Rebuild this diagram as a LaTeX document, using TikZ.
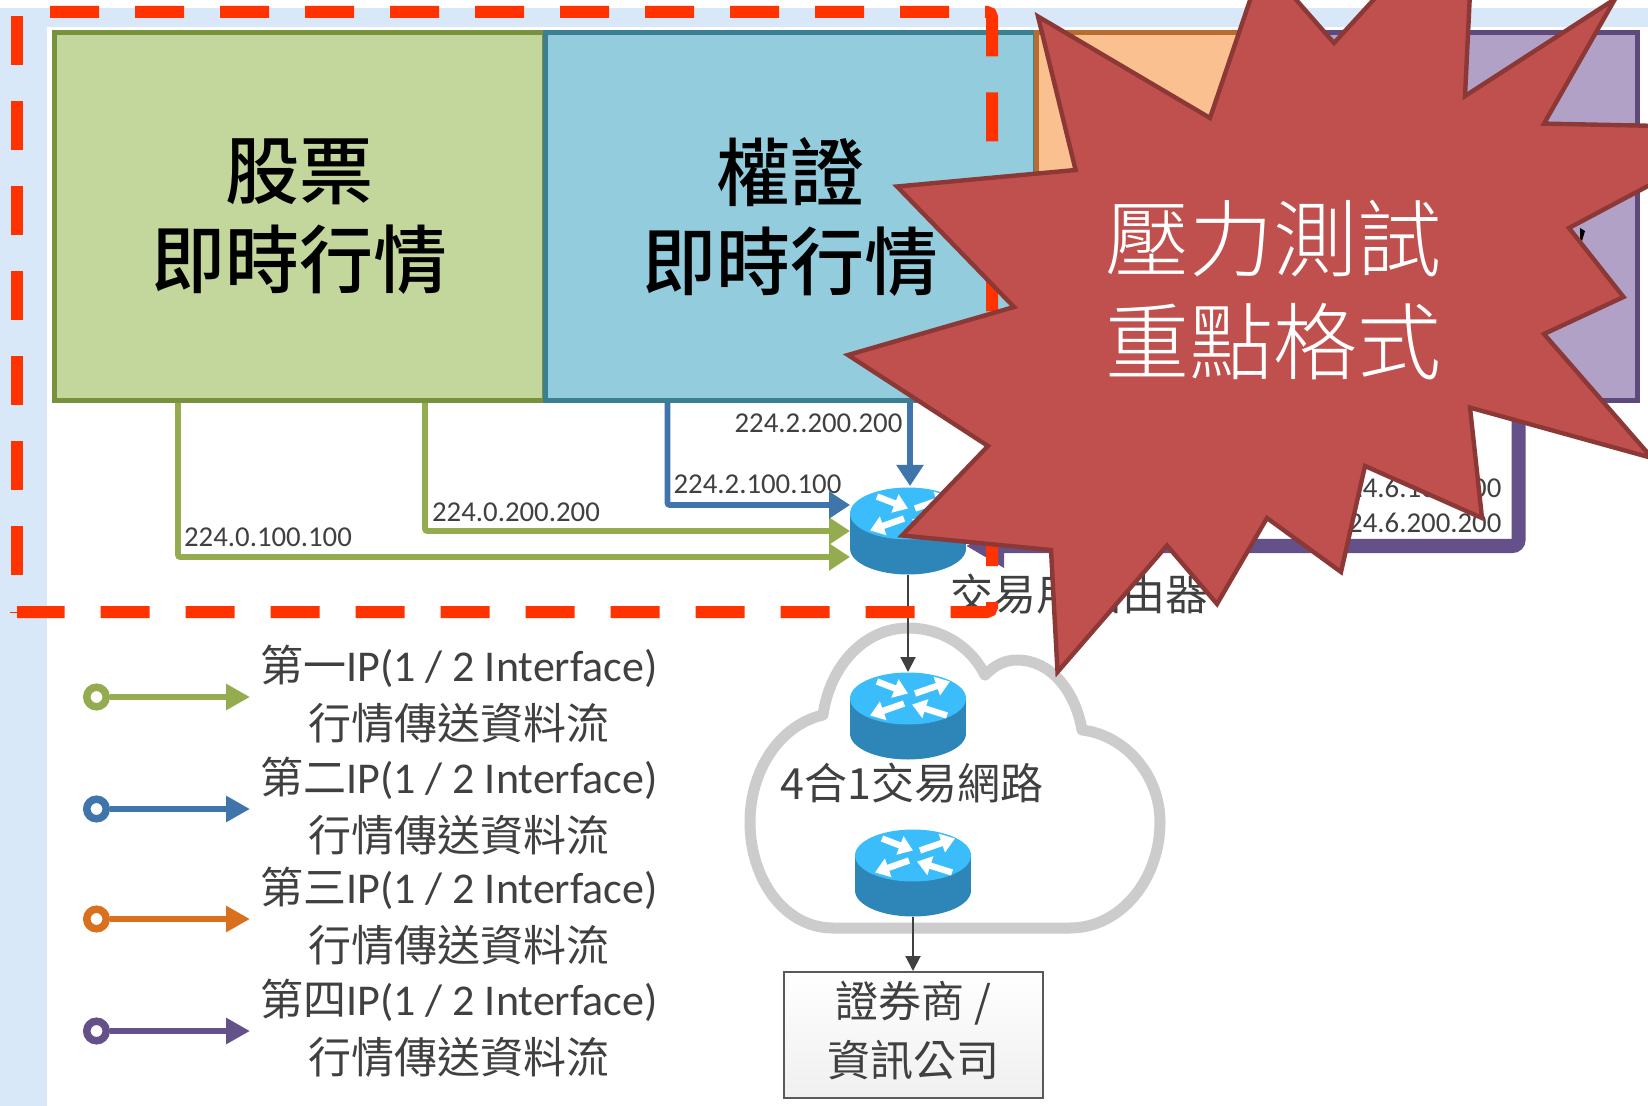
\documentclass[tikz,border=0pt]{standalone}
\usepackage{fontspec}
\usetikzlibrary{arrows.meta}
\newfontfamily\cjk{Noto Sans CJK TC}
\newfontfamily\cjkb{Noto Sans CJK TC Medium}
\newfontfamily\cjkl{Noto Sans CJK TC Light}
\newfontfamily\lat{Carlito}
\definecolor{band}{HTML}{D9E8F8}
\definecolor{gfill}{HTML}{C3D69B}\definecolor{gline}{HTML}{76923C}
\definecolor{bfill}{HTML}{93CDDD}\definecolor{bline}{HTML}{3B7F93}
\definecolor{ofill}{HTML}{FAC090}\definecolor{oline}{HTML}{B66D31}
\definecolor{pfill}{HTML}{B2A1C7}\definecolor{pline}{HTML}{5F497A}
\definecolor{agreen}{HTML}{94AB50}\definecolor{ablue}{HTML}{3F75AA}
\definecolor{aorange}{HTML}{D9701E}\definecolor{apurple}{HTML}{65518A}
\definecolor{txt}{HTML}{404040}
\definecolor{rtop}{HTML}{3BBDFB}\definecolor{rbody}{HTML}{2E86B8}
\definecolor{starfill}{HTML}{C0504D}\definecolor{starline}{HTML}{8C3836}
\definecolor{redash}{HTML}{FF3300}
\tikzset{
 feedbox/.style={draw,line width=2.5pt,minimum width=245pt,minimum height=184pt,inner sep=0pt,align=center,text=black,font=\cjkb\fontsize{37}{44.5}\selectfont},
 feed/.style={line width=2.8pt,rounded corners=1pt,-{Triangle[length=10.5pt,width=13pt]}},
 ipl/.style={font=\lat\fontsize{14.4}{16}\selectfont,text=txt,inner sep=0pt},
 legtxt/.style={font=\cjk\fontsize{21.5}{29}\selectfont,text=txt,align=center,inner sep=0pt},
 legdot/.style={circle,fill=white,line width=3.75pt,minimum size=9.75pt,inner sep=0pt},
 legarrow/.style={line width=3.3pt,-{Triangle[length=12pt,width=12.5pt]}},
 dark/.style={draw=txt,line width=1pt,-{Triangle[length=7.5pt,width=7.5pt]}},
 labeltxt/.style={font=\cjk\fontsize{21.5}{29.5}\selectfont,text=txt,inner sep=0pt,align=center},
 rarrow/.style={draw=white,line width=3.2pt,-{Triangle[length=7pt,width=9.5pt]}},
 reddash/.style={draw=redash,line width=6pt,dash pattern=on 24.5pt off 18pt},
 router/.pic={
  \fill[rbody] (0,17.5) ellipse [x radius=58,y radius=26];
  \fill[rbody] (-58,-17.5) rectangle (58,17.5);
  \fill[rtop] (0,-17.5) ellipse [x radius=58,y radius=26];
  \begin{scope}[shift={(0,-17.5)}]
   \draw[rarrow] (-31,-17) -- (0,-5);
   \draw[rarrow] (7,-5) -- (42,-17);
   \draw[rarrow] (-4,5) -- (-38,17);
   \draw[rarrow] (39,17) -- (4,6);
  \end{scope}
  \node[minimum width=58pt,minimum height=44pt,inner sep=0pt,outer sep=0pt] (-n) at (0,0) {};
 }
}
\begin{document}
\begin{tikzpicture}[x=0.5pt,y=-0.5pt]
\useasboundingbox (0,0) rectangle (1648,1106);
\clip (0,0) rectangle (1648,1106);
\fill[white] (0,0) rectangle (1648,1106);
% light band
\fill[band] (0,8) rectangle (1648,27);
\fill[band] (0,8) rectangle (47,1106);
% cloud
\draw[draw=black!20,line width=5.5pt,line join=round]
 (833,928) .. controls (785,928) and (750,880) .. (750,822)
 .. controls (750,770) and (780,725) .. (823,715)
 .. controls (830,665) and (865,628) .. (908,628)
 .. controls (940,628) and (970,645) .. (985,675)
 .. controls (995,665) and (1005,660) .. (1017,660)
 .. controls (1050,660) and (1075,690) .. (1082,730)
 .. controls (1125,735) and (1160,775) .. (1160,822)
 .. controls (1160,880) and (1120,928) .. (1070,928) -- cycle;
% feed boxes
\node[feedbox,fill=gfill,draw=gline] (stock) at (299,216.5) {股票\\即時行情};
\node[feedbox,fill=bfill,draw=bline] (warrant) at (790,216.5) {權證\\即時行情};
\node[feedbox,fill=ofill,draw=oline,minimum width=127pt] (orangebox) at (1163,216.5) {};
\node[feedbox,fill=pfill,draw=pline,minimum width=173.5pt] (purplebox) at (1463.5,216.5) {};
\fill[black] (1580,228) -- (1585,231) -- (1582,241) -- (1580,239) -- cycle;
% routers
\pic (r1) at (908,531) {router};
\pic (r2) at (908,716) {router};
\pic (r3) at (913,873) {router};
% feed connectors
\coordinate (g1) at (178,557);
\coordinate (g2) at (425,531);
\coordinate (b1) at (667.5,505);
\coordinate (b2) at (910,486);
\coordinate (p1) at (1518.5,546);
\draw[feed,draw=agreen] (stock.south -| g1) -- (g1) -- (r1-n.west |- g1);
\draw[feed,draw=agreen] (stock.south -| g2) -- (g2) -- (r1-n.west |- g2);
\draw[feed,draw=ablue] (warrant.south -| b1) -- (b1) -- (r1-n.west |- b1);
\draw[feed,draw=ablue] (warrant.south -| b2) -- (b2);
\draw[draw=apurple,line width=7pt,rounded corners=3pt,-{Triangle[length=19pt,width=20.5pt]}] (purplebox.south -| p1) -- (p1) -- (r1-n.east |- p1);
% dark connectors
\node[draw=black!65,line width=1pt,top color=white,bottom color=black!6,minimum width=129.5pt,minimum height=63pt,inner sep=0pt] (firm) at (913.5,1035) {};
\node[labeltxt] (firmtxt) at (913.5,1031) {證券商 /\\資訊公司};
\draw[dark] (r1-n.south) -- (r2-n.north);
\draw[dark] (r3-n.south) -- (firm.north -| r3-n.south);
% labels
\node[ipl] (ip1) at (268,537) {224.0.100.100};
\node[ipl] (ip2) at (516,512) {224.0.200.200};
\node[ipl] (ip3) at (757.5,484) {224.2.100.100};
\node[ipl] (ip4) at (818.5,423) {224.2.200.200};
\node[ipl] (ip5) at (1417.5,488) {224.6.100.100};
\node[ipl] (ip6) at (1417.5,522.5) {224.6.200.200};
\node[labeltxt] (rl) at (1079,594) {交易用路由器};
\node[labeltxt] (cl) at (912,783) {4合1交易網路};
% legend
\foreach \n/\y/\c/\t in {1/697/agreen/一,2/809/ablue/二,3/919/aorange/三,4/1031/apurple/四}{
 \node[legdot,draw=\c] (ld\n) at (96.5,\y) {};
 \coordinate (lt\n) at (250,\y);
 \draw[legarrow,draw=\c] (ld\n) -- (lt\n);
 \node[legtxt] (lg\n) at (459,\y-3) {第\t{\lat\fontsize{22}{29}\selectfont IP(1 / 2 Interface)}\\行情傳送資料流};
}
% red dashed frame
\draw[reddash,rounded corners=2.5pt] (50,12) -- (992,12) -- (992,566);
\draw[reddash,rounded corners=2.5pt] (992,602) -- (992,612) -- (17,612);
\draw[reddash] (17,575) -- (17,16);
\draw[draw=redash,line width=0.5pt] (10,612) -- (17,612);
% star
\draw[fill=starfill,draw=starline,line width=2.2pt,line join=miter,miter limit=20]
 (1038,16.5) -- (1210,118) -- (1263,-38) -- (1334,43) -- (1475,-111) -- (1465,96)
 -- (1615,-1) -- (1544,123.6) -- (1757,128) -- (1569,228) -- (1623.5,297) -- (1544,334)
 -- (1652,458) -- (1470,407.6) -- (1482,518) -- (1365,466) -- (1341,572) -- (1267,518)
 -- (1217,604) -- (1167,545.5) -- (1057.5,672) -- (1051,550) -- (902,535.5) -- (988,446)
 -- (848,355) -- (1014,307) -- (897,186.5) -- (1075.6,170) -- cycle;
\node[font=\cjkl\fontsize{42}{51.5}\selectfont,text=white,align=center,inner sep=0pt] (startext) at (1273,290) {壓力測試\\重點格式};
\end{tikzpicture}
\end{document}
